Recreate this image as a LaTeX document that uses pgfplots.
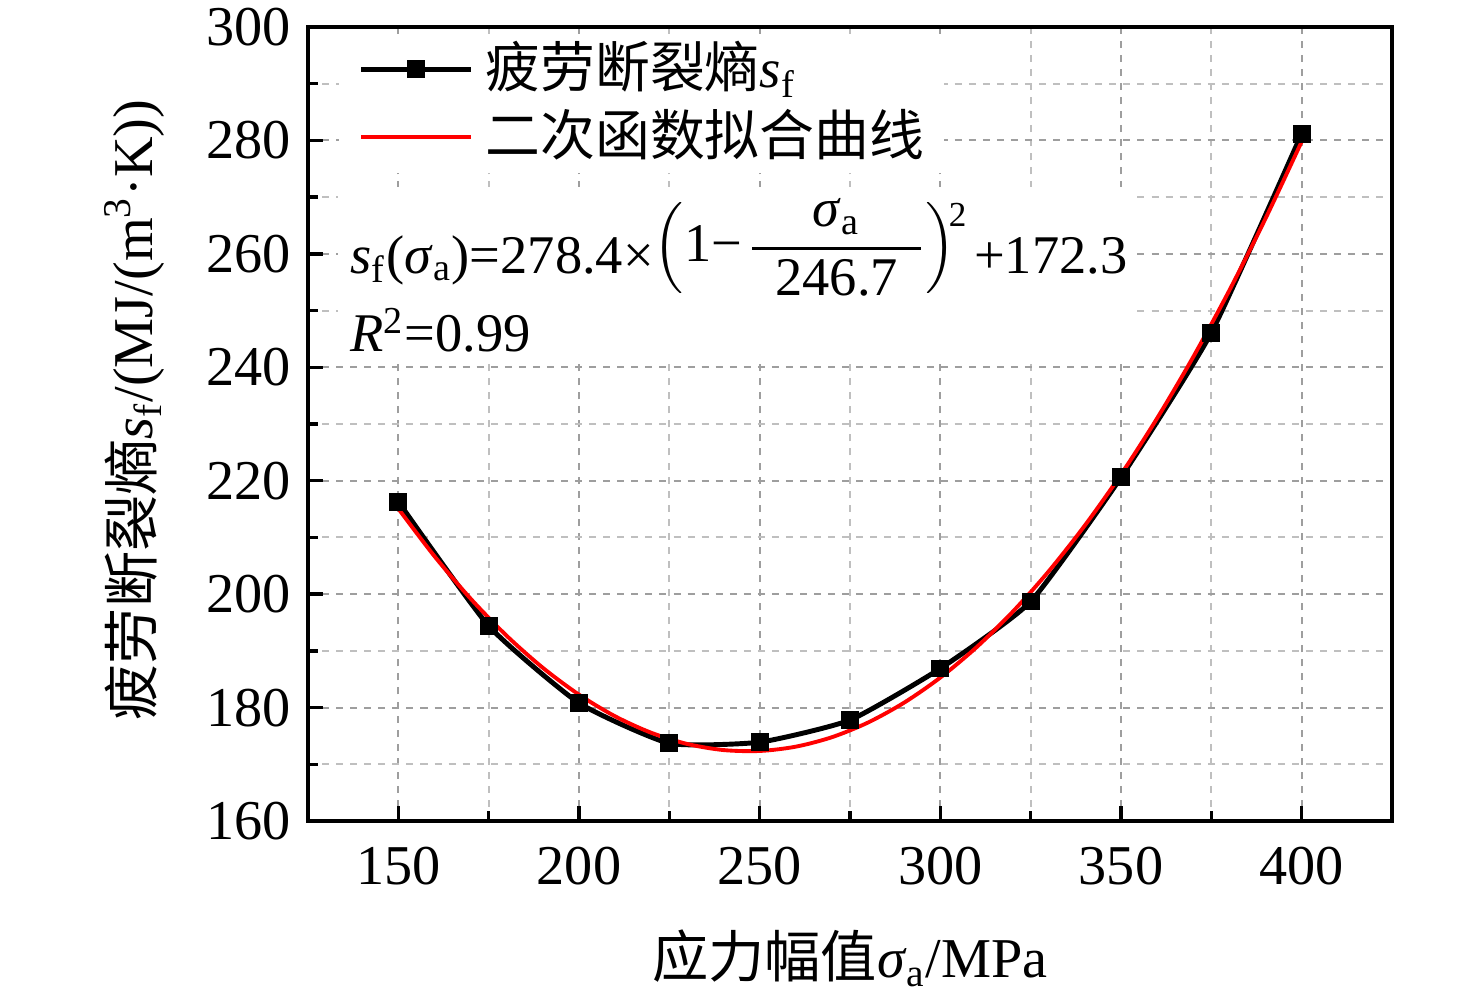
\documentclass[border=0pt]{standalone}
\usepackage{fontspec}
\setmainfont{Liberation Serif}
\newfontfamily\cjk{Noto Sans CJK SC}
\usepackage{amsmath}
\usepackage{pgfplots}
\pgfplotsset{compat=1.18}
\begin{document}
\begin{tikzpicture}[font=\fontsize{16}{19}\selectfont]
\path[use as bounding box] (0,0) rectangle (147.6mm,100.4mm);
\begin{axis}[
  at={(30.8mm,18.3mm)}, anchor=south west,
  scale only axis, width=108.4mm, height=79.4mm,
  xmin=125, xmax=425, ymin=160, ymax=300,
  xtick={150,200,...,400}, ytick={160,180,...,300},
  minor x tick num=1, minor y tick num=1,
  tick pos=left, tick align=inside,
  major tick length=1.5mm, minor tick length=1mm,
  every tick/.style={black, line width=1pt},
  axis line style={line width=1pt},
  grid=both,
  major grid style={black!38, line width=0.6pt, dash pattern=on 2pt off 2pt},
  minor grid style={black!25, line width=0.6pt, dash pattern=on 2pt off 2pt},
  /pgf/number format/assume math mode=true,
  xticklabel style={yshift=-1.4mm},
  yticklabel style={xshift=-0.5mm},
  xlabel={{\cjk 应力幅值}\textit{σ}\textsubscript{a}/MPa},
  ylabel={{\cjk 疲劳断裂熵}\textit{s}\textsubscript{f}/(MJ/(m\textsuperscript{3}·K))},
  xlabel style={at={(axis description cs:0.5,-0.1725)}, anchor=center},
  ylabel style={at={(axis description cs:-0.16,0.5176)}, anchor=center},
  legend style={at={(axis description cs:0.0277,0.9925)}, anchor=north west,
    fill=white, draw=none, inner xsep=2mm, inner ysep=0.5pt, row sep=0pt,
    font=\fontsize{15.6}{18}\selectfont,
    nodes={inner ysep=0pt, inner xsep=0pt, text height=14.8pt, text depth=4.5pt},
    /tikz/every odd column/.append style={column sep=1.2mm}},
  legend cell align=left,
  legend image code/.code={\draw[mark repeat=2,mark phase=2,#1] plot coordinates {(0mm,0mm) (5.5mm,0mm) (11mm,0mm)};},
]
\addplot[black, line width=1.4pt, smooth, tension=0.3, mark=square*, mark size=0.8mm, mark options={solid, line width=0.5pt}] coordinates {
(150,216.3) (175,194.4) (200,180.8) (225,173.7) (250,173.9) (275,177.8)
(300,186.9) (325,198.7) (350,220.6) (375,246.1) (400,281.2)};
\addlegendentry{{\cjk 疲劳断裂熵}\textit{s}\textsubscript{f}}
\addplot[red, line width=1.1pt, smooth] coordinates {
(150,215.07) (160,206.69) (170,199.21) (180,192.65) (190,187.01) (200,182.28)
(210,178.46) (220,175.56) (230,173.58) (240,172.51) (250,172.35) (260,173.11)
(270,174.78) (280,177.37) (290,180.88) (300,185.30) (310,190.63) (320,196.88)
(330,204.04) (340,212.12) (350,221.11) (360,231.02) (370,241.84) (380,253.58)
(390,266.24) (400,279.80)};
\addlegendentry{{\cjk 二次函数拟合曲线}}
\fill[white] (rel axis cs:0.0277,0.5806) rectangle (rel axis cs:0.763,0.7985);
\node[anchor=base west, inner sep=0pt, font=\fontsize{15.5}{18}\selectfont] at (rel axis cs:0.0387,0.690)
  {\textit{s}\textsubscript{f}(\textit{σ}\textsubscript{a})=278.4×\raisebox{1.2mm}{$\left(\rule[-3.1mm]{0pt}{9mm}\text{1−\hspace{0.6mm}}\dfrac{\text{\textit{σ}\textsubscript{a}}}{\text{\hspace{2.3mm}246.7\hspace{2.3mm}}}\right)^{\!\raisebox{-1.3mm}{\fontsize{10}{12}\selectfont 2}}$}\hspace{0.6mm}+172.3};
\node[anchor=base west, inner sep=0pt, font=\fontsize{15.5}{18}\selectfont] at (rel axis cs:0.0387,0.5907)
  {\textit{R}\textsuperscript{2}=0.99};
\end{axis}
\end{tikzpicture}
\end{document}
